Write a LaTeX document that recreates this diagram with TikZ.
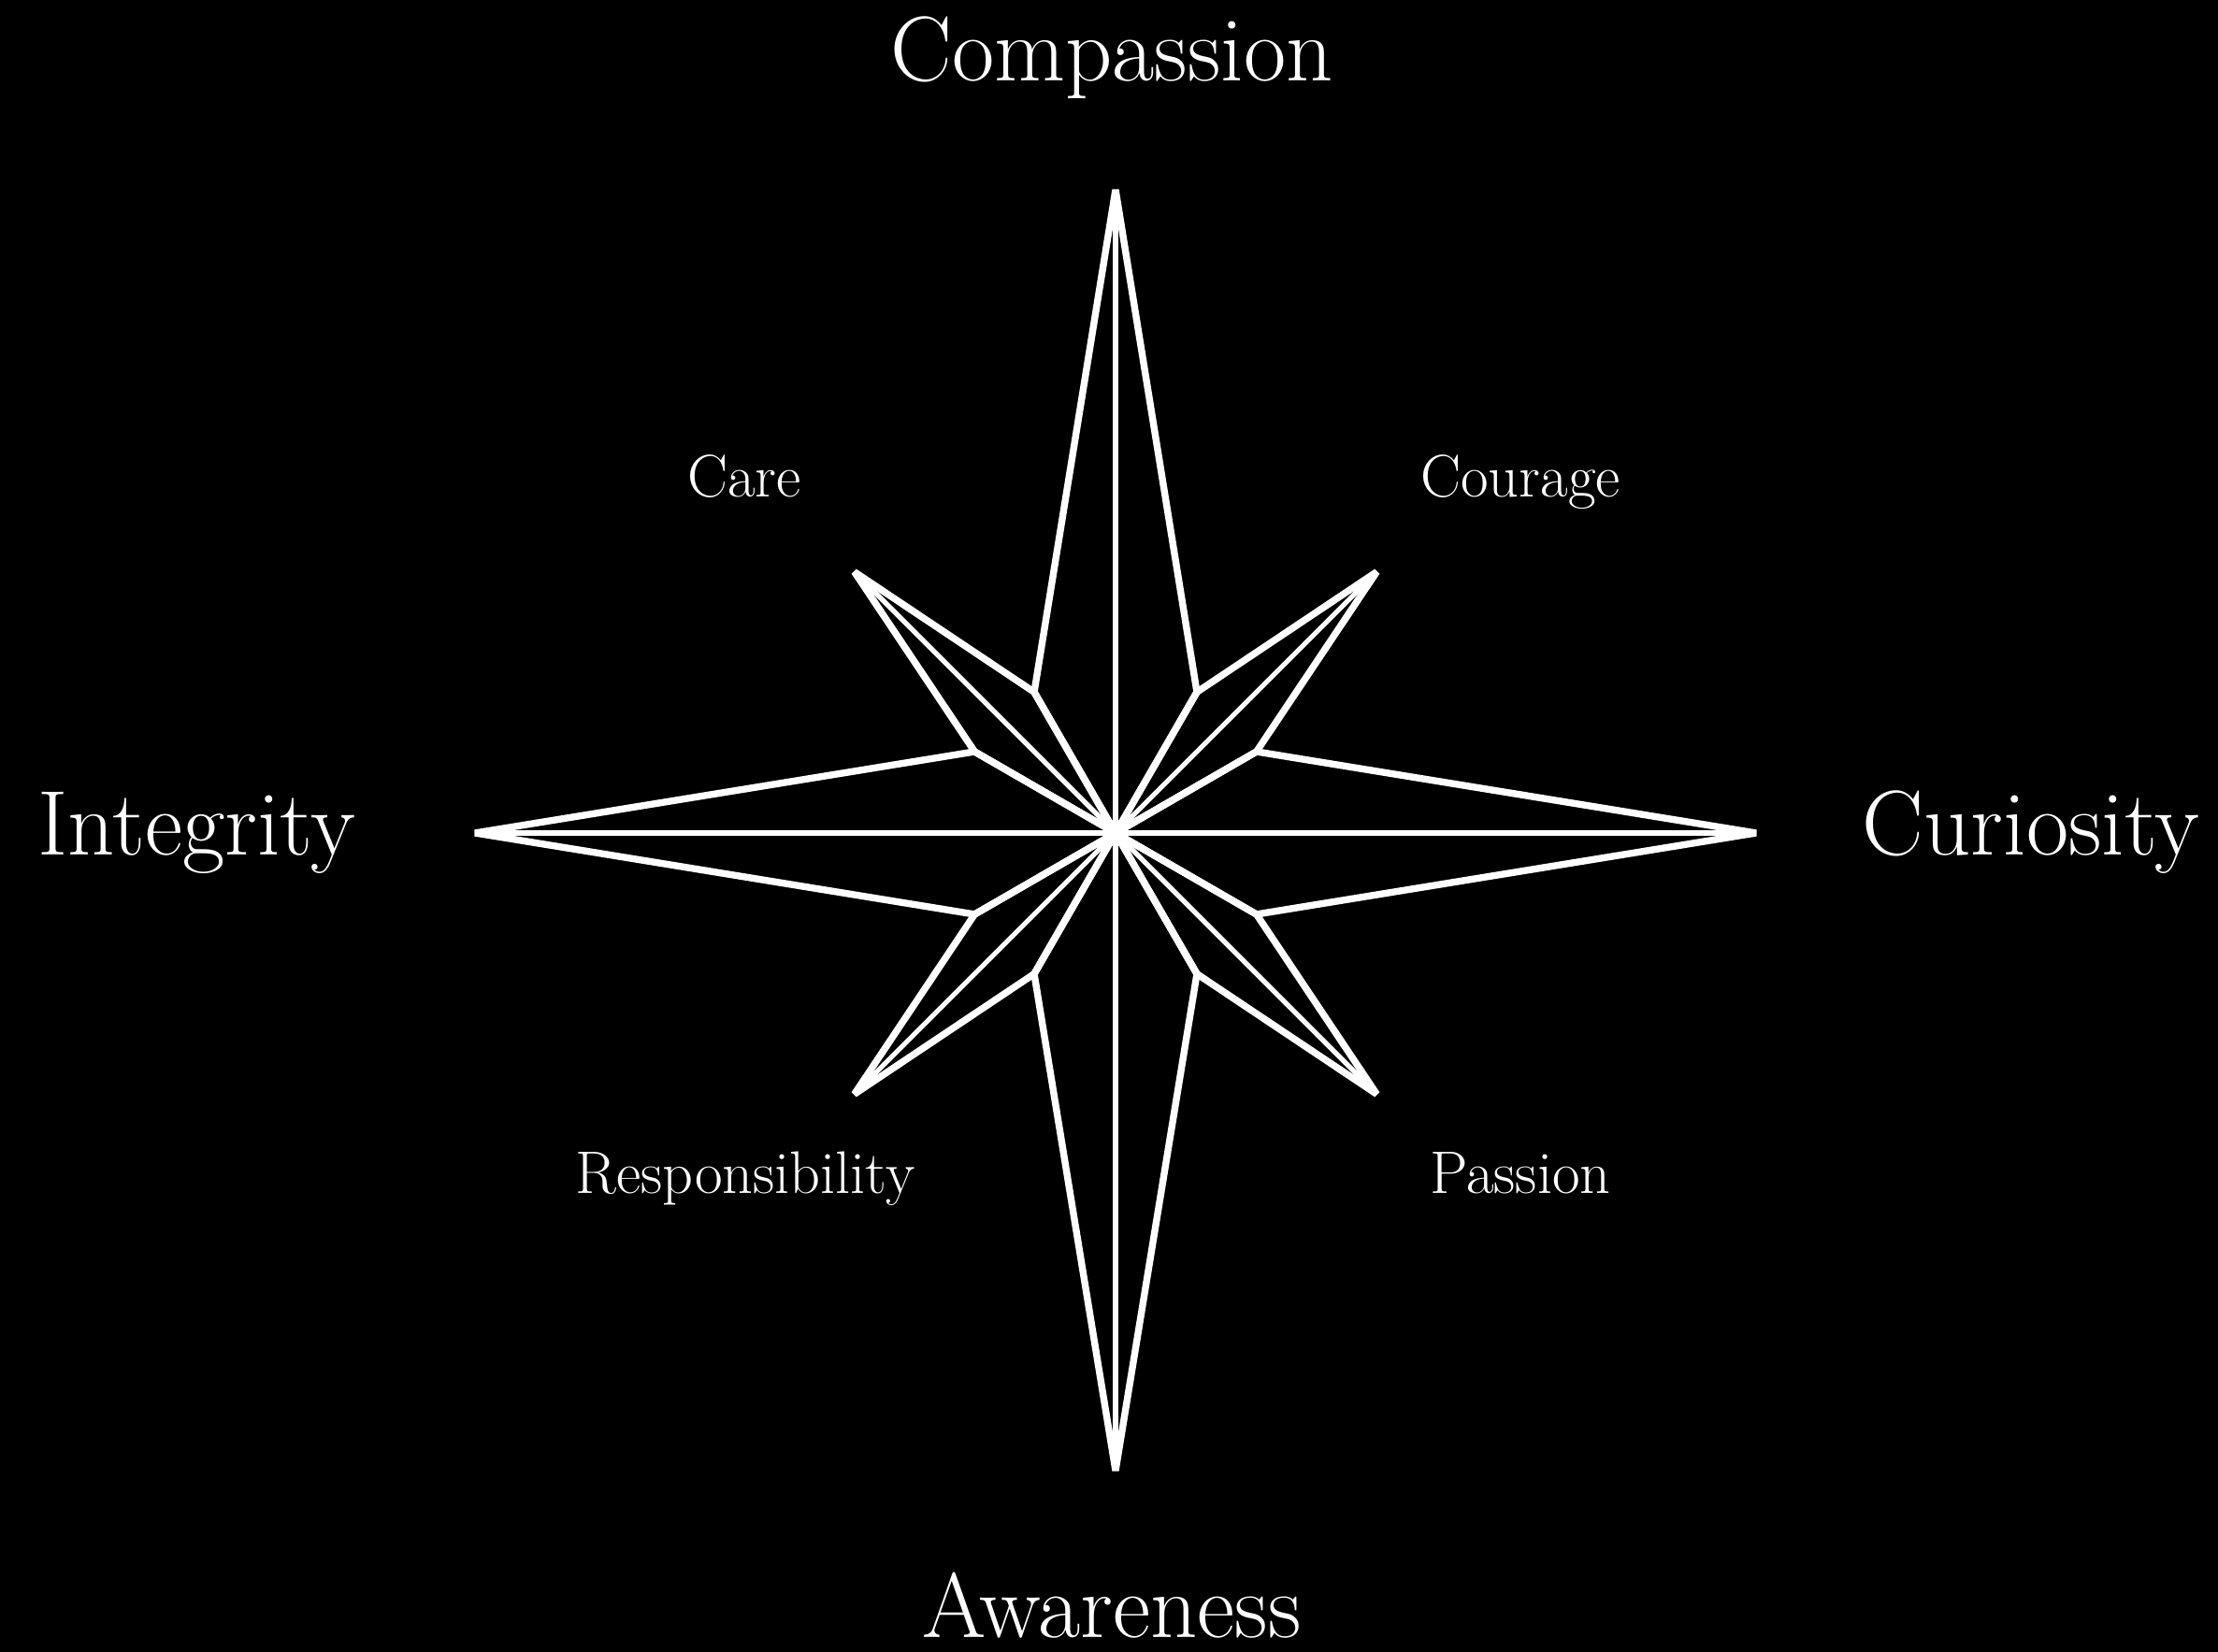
\documentclass[tikz,border=0pt]{standalone}
\usepackage{tikz}
\usetikzlibrary{calc}

\begin{document}
\begin{tikzpicture}[
    arm/.style={draw=white, line width=2.1pt, line join=bevel},
    spine/.style={draw=white, line width=1.5pt, shorten >=5pt},
    bigword/.style={text=white, anchor=base, inner sep=0pt, font=\fontsize{28}{32}\selectfont},
    smallword/.style={text=white, anchor=base, inner sep=0pt, font=\fontsize{18.3}{22}\selectfont}
]

% --- Background ---
\fill[black] (0,0) rectangle (23.72,17.67);
\useasboundingbox (0,0) rectangle (23.72,17.67);

% --- Star ---
\begin{scope}[shift={(11.93,8.76)}]
    \coordinate (O) at (0,0);

    % Main tips
    \coordinate (tipE) at (0:6.85);
    \coordinate (tipN) at (90:6.88);
    \coordinate (tipW) at (180:6.85);
    \coordinate (tipS) at (270:6.82);

    % Diagonal tips
    \coordinate (tipNE) at (45:3.95);
    \coordinate (tipNW) at (135:3.95);
    \coordinate (tipSW) at (225:3.95);
    \coordinate (tipSE) at (315:3.95);

    % Side points
    \coordinate (s30) at (30:1.74);
    \coordinate (s60) at (60:1.74);
    \coordinate (s120) at (120:1.74);
    \coordinate (s150) at (150:1.74);
    \coordinate (s210) at (210:1.74);
    \coordinate (s240) at (240:1.74);
    \coordinate (s300) at (300:1.74);
    \coordinate (s330) at (330:1.74);

    % Main arms
    \draw[arm] (tipN) -- (s60) -- (O) -- (s120) -- cycle;
    \draw[arm] (tipW) -- (s150) -- (O) -- (s210) -- cycle;
    \draw[arm] (tipS) -- (s240) -- (O) -- (s300) -- cycle;
    \draw[arm] (tipE) -- (s330) -- (O) -- (s30) -- cycle;

    % Diagonal arms
    \draw[arm] (tipNE) -- (s30) -- (O) -- (s60) -- cycle;
    \draw[arm] (tipNW) -- (s120) -- (O) -- (s150) -- cycle;
    \draw[arm] (tipSW) -- (s210) -- (O) -- (s240) -- cycle;
    \draw[arm] (tipSE) -- (s300) -- (O) -- (s330) -- cycle;

    % Spines
    \draw[spine] (O) -- (tipN);
    \draw[spine] (O) -- (tipW);
    \draw[spine] (O) -- (tipS);
    \draw[spine] (O) -- (tipE);
    \draw[spine] (O) -- (tipNE);
    \draw[spine] (O) -- (tipNW);
    \draw[spine] (O) -- (tipSW);
    \draw[spine] (O) -- (tipSE);
\end{scope}

% --- Labels ---
\node[bigword] (compassion) at (11.89,16.80) {Compassion};
\node[bigword] (awareness) at (11.89,0.15) {Awareness};
\node[bigword] (integrity) at (2.10,8.52) {Integrity};
\node[bigword] (curiosity) at (21.72,8.52) {Curiosity};

\node[smallword] (care) at (7.96,12.35) {Care};
\node[smallword] (courage) at (16.26,12.35) {Courage};
\node[smallword] (responsibility) at (7.97,4.90) {Responsibility};
\node[smallword] (passion) at (16.26,4.90) {Passion};

\end{tikzpicture}
\end{document}
